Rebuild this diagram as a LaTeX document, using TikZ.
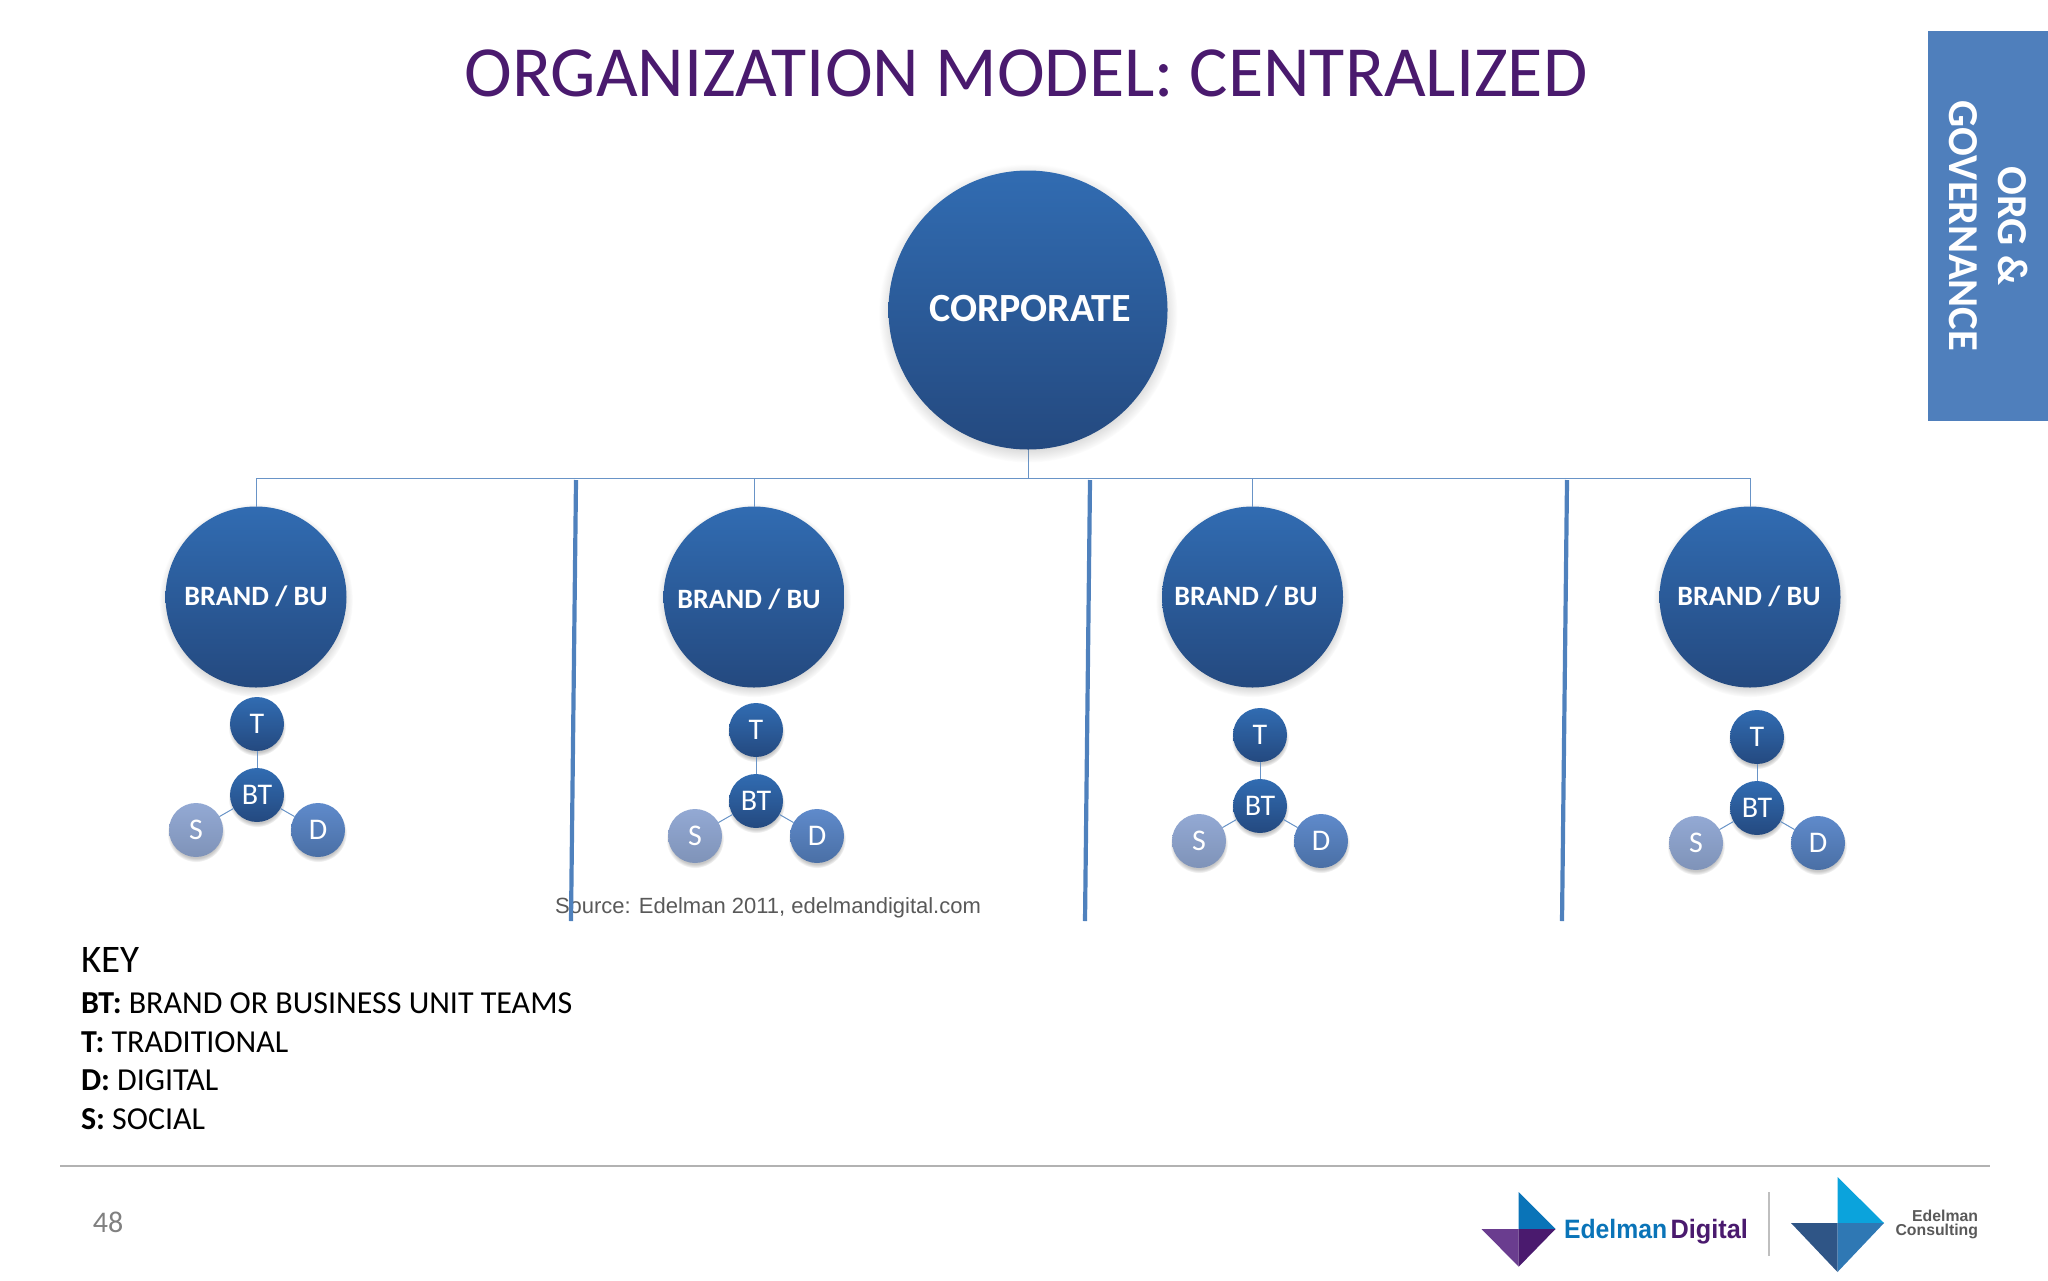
\documentclass[tikz,border=0pt]{standalone}
\usepackage{fontspec}
\setmainfont{Carlito}
\newfontfamily\arialfont{Liberation Sans}
\usetikzlibrary{shadows}
\definecolor{titlepurple}{HTML}{4A1A6E}
\definecolor{tabblue}{HTML}{4F7FBC}
\definecolor{linkblue}{HTML}{4F81BD}
\definecolor{darktop}{HTML}{316CB2}
\definecolor{darkbot}{HTML}{24497F}
\definecolor{midtop}{HTML}{5F8ACB}
\definecolor{midbot}{HTML}{4A6FA5}
\definecolor{paletop}{HTML}{93A9D4}
\definecolor{palebot}{HTML}{7F93B8}
\definecolor{logoblue}{HTML}{0A74B8}
\definecolor{logolilac}{HTML}{6A3D8F}
\definecolor{logosky}{HTML}{0BA3DC}
\definecolor{logonavy}{HTML}{2F5586}
\definecolor{logosteel}{HTML}{2F78B4}

\begin{document}
\begin{tikzpicture}
	[x=0.5pt,y=-0.5pt,
	every node/.style={inner sep=0pt,outer sep=0pt},
	ball/.style={circle,text=white,shading=axis,top color=darktop,bottom color=darkbot,
		circular drop shadow={shadow xshift=0pt,shadow yshift=-1.5pt,shadow scale=1.07,opacity=.45}},
	corpball/.style={ball,minimum size=139.5pt},
	corptext/.style={text=white,font=\bfseries\fontsize{20}{24}\selectfont},
	brandball/.style={ball,minimum size=90.5pt},
	brandtext/.style={text=white,font=\bfseries\fontsize{14}{16}\selectfont},
	teamball/.style={ball,minimum size=27pt,font=\fontsize{15}{18}\selectfont},
	digiball/.style={teamball,top color=midtop,bottom color=midbot},
	socball/.style={teamball,top color=paletop,bottom color=palebot},
	tabtext/.style={rotate=-90,text=white,font=\bfseries\fontsize{21.3}{26}\selectfont},
	trunk/.style={draw=linkblue!85!white,line width=.5pt},
	divider/.style={draw=linkblue,line width=2.1pt},
	keytext/.style={anchor=base west,font=\fontsize{16}{18}\selectfont}]
		\useasboundingbox (0,0) rectangle (2048,1280);
		\fill[tabblue] (1928,31) rectangle (2048,421);
		\node[tabtext] (tab1) at (2013,226) {ORG \&};
		\node[tabtext] (tab2) at (1963,226) {GOVERNANCE};
		\node[text=titlepurple,font=\fontsize{36}{42}\selectfont] (title) at (1026,73) {ORGANIZATION MODEL: CENTRALIZED};
		\coordinate (hub) at (1028,478);
		\coordinate (div1a) at (576,480);
		\coordinate (div1b) at (571,921);
		\coordinate (div2a) at (1090,480);
		\coordinate (div2b) at (1085,921);
		\coordinate (div3a) at (1567,480);
		\coordinate (div3b) at (1562,921);
		\draw[trunk] (1028,400) -- (hub);
		\node[corpball] (corp) at (1028,310) {};
		\node[corptext] (corplabel) at (1030,309) {CORPORATE};
		\foreach \n/\bx/\lx/\ly/\tx/\ty in {1/256/256/596/257/795,2/754/749/599/756/801,3/1252.5/1246/596/1260/806,4/1750/1749/596/1757/808}{
			\node[brandball] (brand\n) at (\bx,597) {};
			\node[brandtext] (brandlabel\n) at (\lx,\ly) {BRAND / BU};
			\draw[trunk] (brand\n) |- (hub);
			\node[teamball] (bt\n) at (\tx,\ty) {BT};
			\node[teamball] (t\n) at (\tx,\ty-71) {T};
			\node[socball] (s\n) at (\tx-61,\ty+35) {S};
			\node[digiball] (d\n) at (\tx+61,\ty+35) {D};
			\draw[trunk] (bt\n) -- (t\n);
			\draw[trunk] (bt\n) -- (s\n);
			\draw[trunk] (bt\n) -- (d\n);
		}
		\node[anchor=base west,text=black!65,font=\arialfont\fontsize{11}{14}\selectfont] (source) at (555,913) {Source: Edelman 2011, edelmandigital.com};
		\draw[divider] (div1a) -- (div1b);
		\draw[divider] (div2a) -- (div2b);
		\draw[divider] (div3a) -- (div3b);
		\node[keytext,font=\fontsize{19.5}{22}\selectfont] (key) at (81,972) {KEY};
		\node[keytext] (key1) at (81,1013) {\textbf{BT:} BRAND OR BUSINESS UNIT TEAMS};
		\node[keytext] (key2) at (81,1052) {\textbf{T:} TRADITIONAL};
		\node[keytext] (key3) at (81,1090) {\textbf{D:} DIGITAL};
		\node[keytext] (key4) at (81,1129) {\textbf{S:} SOCIAL};
		\draw[black!30,line width=1pt] (60,1166) -- (1990,1166);
		\node[text=black!50,font=\fontsize{15}{18}\selectfont] (page) at (108,1222) {48};
		\fill[logoblue] (1518.7,1229) -- (1518.7,1192) -- (1555.5,1229) -- cycle;
		\fill[logolilac] (1518.7,1229) -- (1481.5,1229) -- (1518.7,1266.7) -- cycle;
		\fill[titlepurple] (1518.7,1229) -- (1555.5,1229) -- (1518.7,1266.7) -- cycle;
		\node[anchor=base west,xscale=.93,text=logoblue,font=\arialfont\bfseries\fontsize{13.3}{16}\selectfont] (logo1a) at (1564,1238) {Edelman};
		\node[anchor=base west,xscale=.95,text=titlepurple,font=\arialfont\bfseries\fontsize{13.3}{16}\selectfont] (logo1b) at (1670.7,1238) {Digital};
		\draw[black!25,line width=.6pt] (1769,1192) -- (1769,1256);
		\fill[logosky] (1837.5,1223) -- (1837.5,1177) -- (1884,1223) -- cycle;
		\fill[logonavy] (1837.5,1223) -- (1791,1223) -- (1837.5,1272) -- cycle;
		\fill[logosteel] (1837.5,1223) -- (1884,1223) -- (1837.5,1272) -- cycle;
		\node[anchor=east,text=black!65,font=\arialfont\bfseries\fontsize{7.9}{9}\selectfont] (logo2a) at (1978,1216) {Edelman};
		\node[anchor=east,text=black!65,font=\arialfont\bfseries\fontsize{7.9}{9}\selectfont] (logo2b) at (1978,1231) {Consulting};
	\end{tikzpicture}
\end{document}
